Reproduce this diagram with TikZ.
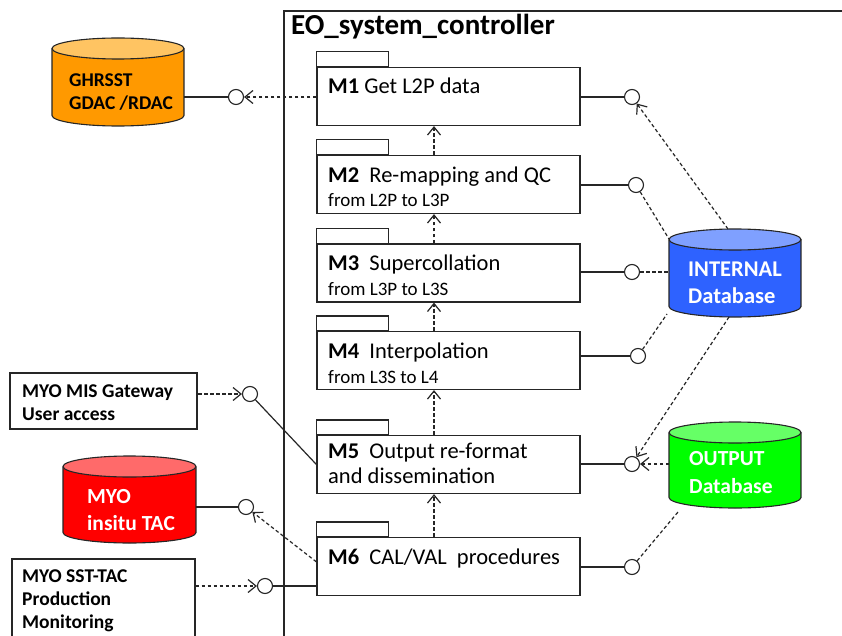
\documentclass[tikz,border=0pt]{standalone}
\usepackage{fontspec}
\setmainfont{Carlito}
\usetikzlibrary{arrows.meta,calc}
\definecolor{orgbody}{HTML}{FF9900}
\definecolor{orgtop}{HTML}{FFC462}
\definecolor{blubody}{HTML}{2E62FF}
\definecolor{blutop}{HTML}{7FA0FF}
\definecolor{grnbody}{HTML}{00FF00}
\definecolor{grntop}{HTML}{66FF66}
\definecolor{redbody}{HTML}{FF0000}
\definecolor{redtop}{HTML}{FF6A6A}
\definecolor{ink}{HTML}{262626}
\tikzset{
  modbox/.style={draw=ink, line width=1.2pt, fill=white, minimum width=263pt, minimum height=58pt, inner sep=0pt},
  tabbox/.style={draw=ink, line width=1.2pt, fill=white},
  sock/.style={circle, draw=ink, line width=1.1pt, fill=white, minimum size=15pt, inner sep=0pt},
  dep/.style={draw=ink, dash pattern=on 3.5pt off 2.5pt, line width=1.2pt, -{Straight Barb[length=8pt,width=13pt]}},
  depline/.style={draw=ink, dash pattern=on 3.5pt off 2.5pt, line width=1.2pt},
  conn/.style={draw=ink, line width=1.2pt},
  dbline/.style={draw=ink, line width=1.1pt},
  mtxt/.style={anchor=base west, inner sep=0pt, font=\fontsize{22.5}{26}\selectfont},
  stxt/.style={anchor=base west, inner sep=0pt, font=\fontsize{19}{22}\selectfont},
  ltxt/.style={anchor=base west, inner sep=0pt, font=\bfseries\fontsize{19.5}{22}\selectfont},
  dbtxt/.style={anchor=base west, inner sep=0pt, font=\bfseries\fontsize{22.5}{24}\selectfont, text=white},
}
% #1 name, #2 cx, #3 ytop, #4 ybot, #5 rx, #6 body, #7 top
\newcommand\dbcyl[7]{%
  \fill[#6] ({#2-#5},{#3+10.5}) rectangle ({#2+#5},{#4-10.5});
  \fill[#6] (#2,{#4-10.5}) ellipse[x radius=#5pt, y radius=10.5pt];
  \draw[dbline] ({#2-#5},{#3+10.5}) -- ({#2-#5},{#4-10.5}) arc[start angle=180, end angle=360, x radius=#5pt, y radius=10.5pt] -- ({#2+#5},{#3+10.5});
  \draw[dbline, fill=#7] (#2,{#3+10.5}) ellipse[x radius=#5pt, y radius=10.5pt];
  \node[inner sep=0pt, outer sep=0pt, minimum width={2*#5*1pt}, minimum height={(#4-#3)*1pt}] (#1) at (#2,{(#3+#4)/2}) {};
}
\begin{document}
\begin{tikzpicture}[x=1pt,y=-1pt]
\clip (0,0) rectangle (842,636);
\fill[white] (0,0) rectangle (842,636);

% system frame
\draw[ink, line width=2pt] (284,700) -- (284,11) -- (900,11);
\node[anchor=base west, inner sep=0pt, font=\bfseries\fontsize{29}{32}\selectfont] (title) at (291,35) {EO\_system\_controller};

% modules
\node[modbox] (m1) at (448.5,96.5) {};
\node[modbox] (m2) at (448.5,184.5) {};
\node[modbox] (m3) at (448.5,273) {};
\node[modbox] (m4) at (448.5,360.5) {};
\node[modbox] (m5) at (448.5,464.5) {};
\node[modbox] (m6) at (448.5,566.5) {};
\foreach \m in {m1,m2,m3,m4,m5,m6}{
  \draw[tabbox] ($(\m.north west)+(0,-15)$) rectangle ++(72,15);
}
\node[mtxt] (m1a) at (328,94) {\textbf{M1} Get L2P data};
\node[mtxt] (m2a) at (328,183) {\textbf{M2}\ \ Re-mapping and QC};
\node[stxt] (m2b) at (328,207) {from L2P to L3P};
\node[mtxt] (m3a) at (328,270) {\textbf{M3}\ \ Supercollation};
\node[stxt] (m3b) at (328,295) {from L3P to L3S};
\node[mtxt] (m4a) at (328,358) {\textbf{M4}\ \ Interpolation};
\node[stxt] (m4b) at (328,383) {from L3S to L4};
\node[mtxt] (m5a) at (328,458) {\textbf{M5}\ \ Output re-format};
\node[mtxt] (m5b) at (328,483) {and dissemination};
\node[mtxt] (m6a) at (328,564) {\textbf{M6}\ \ CAL/VAL\ \ procedures};

% databases
\dbcyl{gh}{118}{38}{126}{66}{orgbody}{orgtop}
\node[ltxt] (gh1) at (69,87) {GHRSST};
\node[ltxt] (gh2) at (69,110) {GDAC /RDAC};
\dbcyl{int}{735}{229}{317}{66}{blubody}{blutop}
\node[dbtxt] (int1) at (688,276) {INTERNAL};
\node[dbtxt] (int2) at (688,303) {Database};
\dbcyl{out}{735}{422}{508}{66}{grnbody}{grntop}
\node[dbtxt, font=\bfseries\fontsize{21.5}{24}\selectfont] (out1) at (689,465) {OUTPUT};
\node[dbtxt, font=\bfseries\fontsize{21.5}{24}\selectfont] (out2) at (689,493) {Database};
\dbcyl{ins}{129.5}{456}{543}{66.5}{redbody}{redtop}
\node[dbtxt, font=\bfseries\fontsize{21.5}{24}\selectfont] (ins1) at (87,503) {MYO};
\node[dbtxt, font=\bfseries\fontsize{21.5}{24}\selectfont] (ins2) at (87,530) {insitu TAC};

% external boxes
\node[draw=ink, line width=2.8pt, minimum width=187pt, minimum height=56pt, inner sep=0pt] (mis) at (103.5,401) {};
\node[ltxt] (mis1) at (22,397) {MYO MIS Gateway};
\node[ltxt] (mis2) at (22,420) {User access};
\node[draw=ink, line width=1.2pt, minimum width=183pt, minimum height=101pt, inner sep=0pt] (sst) at (103.5,609.5) {};
\node[ltxt] (sst1) at (22,582) {MYO SST-TAC};
\node[ltxt] (sst2) at (22,605) {Production};
\node[ltxt] (sst3) at (22,628) {Monitoring};

% sockets
\node[sock] (s0) at (236,97) {};
\node[sock] (s1) at (632,97) {};
\node[sock] (s2) at (636,185) {};
\node[sock] (s3) at (632,272) {};
\node[sock] (s4) at (638,356) {};
\node[sock] (s5) at (632,464) {};
\node[sock] (s6) at (632,567) {};
\node[sock] (sg) at (250,394) {};
\node[sock] (si) at (246,507) {};
\node[sock] (ss) at (265,586) {};

% left connectors
\draw[dep] (m1.west |- s0) -- (s0);
\draw[conn] (s0) -- (s0 -| gh.east);
\draw[dep] (mis.east |- sg) -- (sg);
\draw[conn] (sg) -- (m5.west);
\draw[conn] (si) -- (si -| ins.east);
\draw[dep] ($(m6.north west)+(0,25)$) -- (si);
\draw[dep] (sst.east |- ss) -- (ss);
\draw[conn] (ss) -- (ss -| m6.west);

% right connectors
\draw[conn] (m1.east |- s1) -- (s1);
\draw[conn] (m2.east |- s2) -- (s2);
\draw[conn] (m3.east |- s3) -- (s3);
\draw[conn] (m4.east |- s4) -- (s4);
\draw[conn] (m5.east |- s5) -- (s5);
\draw[conn] (m6.east |- s6) -- (s6);
\draw[dep] ($(int.north)+(-7,0)$) -- (s1);
\draw[depline] (s2) -- ($(int.north west)+(0,10)$);
\draw[depline] (s3) -- (s3 -| int.west);
\draw[depline] (s4) -- ($(int.south west)+(-2,-3)$);
\draw[dep] ($(int.south)+(-6,0)$) -- (s5);
\draw[dep] (s5 -| out.west) -- (s5);
\draw[depline] (s6) -- ($(out.south west)+(9,4)$);

% module chain
\coordinate (ax) at (434,0);
\draw[dep] (m2.north -| ax) -- (m1.south -| ax);
\draw[dep] (m3.north -| ax) -- (m2.south -| ax);
\draw[dep] (m4.north -| ax) -- (m3.south -| ax);
\draw[dep] (m5.north -| ax) -- (m4.south -| ax);
\draw[dep] (m6.north -| ax) -- (m5.south -| ax);
\end{tikzpicture}
\end{document}
